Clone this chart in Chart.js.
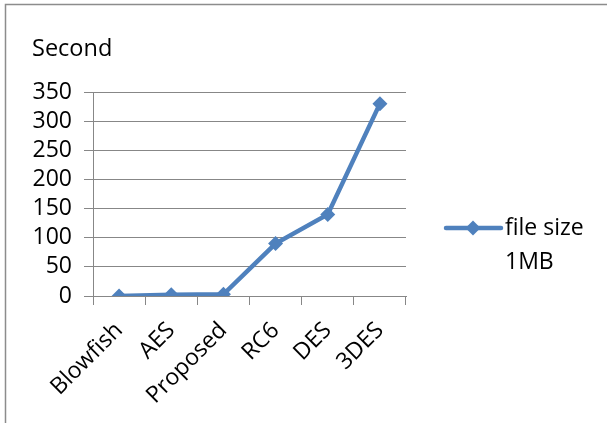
<!DOCTYPE html>
<html>
<head>
<meta charset="utf-8">
<script src="https://cdn.jsdelivr.net/npm/chart.js@4/dist/chart.umd.min.js"></script>
<style>
  html, body { margin: 0; padding: 0; background: #fff; }
  #wrap { position: relative; width: 607px; height: 423px; }
</style>
</head>
<body>
<div id="wrap"><canvas id="c" width="607" height="423"></canvas></div>
<script>
// Encryption time (seconds) for a 1MB file
const categories = ['Blowfish', 'AES', 'Proposed', 'RC6', 'DES', '3DES'];
const seconds = [0, 2, 3, 90, 140, 330];
const yTicks = [0, 50, 100, 150, 200, 250, 300, 350];
const seriesName = ['file size', '1MB'];
const axisTitle = 'Second';

const BLUE = '#4F81BD';
const GRID = '#878787';
const FONT = '"Open Sans", sans-serif';

// Frame lines, axis caption and a legend with a wrapped label
const decorations = {
  id: 'decorations',
  beforeDraw(chart) {
    const ctx = chart.ctx;
    ctx.save();
    ctx.strokeStyle = '#8c8c8c';
    ctx.lineWidth = 1.5;
    ctx.beginPath();
    ctx.moveTo(5.5, 423);
    ctx.lineTo(5.5, 4.5);
    ctx.lineTo(607, 4.5);
    ctx.stroke();
    ctx.restore();
  },
  afterDraw(chart) {
    const ctx = chart.ctx;
    ctx.save();
    ctx.fillStyle = '#000';
    ctx.font = '23.5px ' + FONT;
    ctx.textBaseline = 'middle';
    ctx.textAlign = 'left';
    ctx.fillText(axisTitle, 32, 49);

    // legend entry
    const ly = 228;
    ctx.strokeStyle = BLUE;
    ctx.lineWidth = 4.5;
    ctx.lineCap = 'round';
    ctx.beginPath();
    ctx.moveTo(446, ly);
    ctx.lineTo(501, ly);
    ctx.stroke();
    ctx.fillStyle = BLUE;
    ctx.beginPath();
    ctx.moveTo(473, ly - 7.5);
    ctx.lineTo(480.5, ly);
    ctx.lineTo(473, ly + 7.5);
    ctx.lineTo(465.5, ly);
    ctx.closePath();
    ctx.fill();
    ctx.fillStyle = '#000';
    ctx.font = '23px ' + FONT;
    seriesName.forEach((t, i) => ctx.fillText(t, 505, ly + i * 34));
    ctx.restore();
  }
};

new Chart(document.getElementById('c'), {
  type: 'line',
  data: {
    labels: categories,
    datasets: [{
      label: seriesName.join(' '),
      data: seconds,
      borderColor: BLUE,
      backgroundColor: BLUE,
      borderWidth: 4.5,
      pointStyle: 'rectRot',
      pointRadius: 7.5,
      pointBorderWidth: 0,
      tension: 0
    }]
  },
  options: {
    responsive: false,
    animation: false,
    layout: { padding: { top: 92, right: 201, bottom: 0, left: 0 } },
    plugins: {
      legend: { display: false },
      title: { display: false },
      tooltip: { enabled: false }
    },
    scales: {
      x: {
        offset: true,
        afterFit(scale) { scale.height = 127; },
        grid: {
          offset: true,
          drawOnChartArea: false,
          color: GRID,
          tickLength: 9,
          lineWidth: 1
        },
        border: { color: GRID, width: 1 },
        ticks: {
          color: '#000',
          font: { family: FONT, size: 23 },
          maxRotation: 45,
          minRotation: 45,
          padding: 12,
          autoSkip: false
        }
      },
      y: {
        min: 0,
        max: 350,
        afterFit(scale) { scale.width = 93; },
        afterBuildTicks(scale) { scale.ticks = yTicks.map(v => ({ value: v })); },
        grid: { color: GRID, tickLength: 9, lineWidth: 1 },
        border: { color: GRID, width: 1 },
        ticks: {
          color: '#000',
          font: { family: FONT, size: 23 },
          padding: 12,
          autoSkip: false
        }
      }
    }
  },
  plugins: [decorations]
});
</script>
</body>
</html>
